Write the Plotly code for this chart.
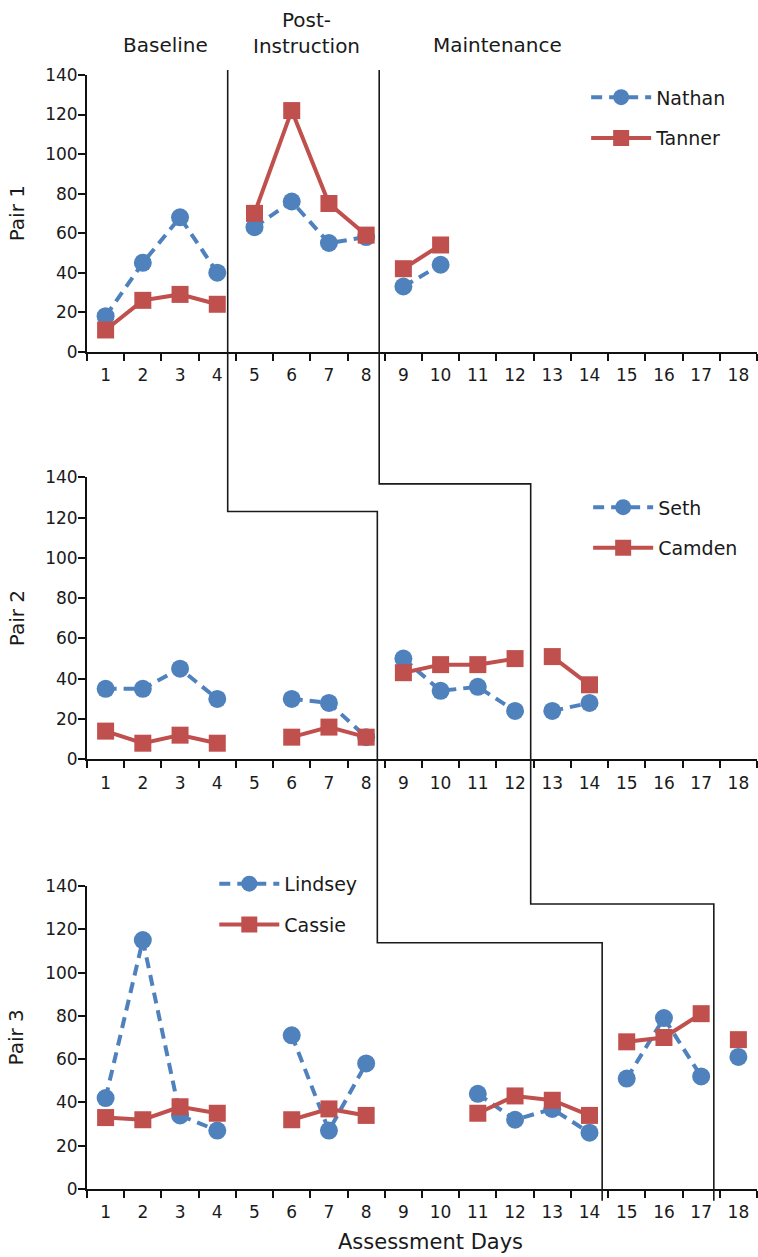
import plotly.graph_objects as go

# ---------------- data ----------------
days = list(range(1, 19))
nathan = [18, 45, 68, 40, 63, 76, 55, 58, 33, 44] + [None] * 8
tanner = [11, 26, 29, 24, 70, 122, 75, 59, 42, 54] + [None] * 8
seth = [35, 35, 45, 30, None, 30, 28, 11, 50, 34, 36, 24, 24, 28, None, None, None, None]
camden = [14, 8, 12, 8, None, 11, 16, 11, 43, 47, 47, 50, 51, 37, None, None, None, None]
lindsey = [42, 115, 34, 27, None, 71, 27, 58, None, None, 44, 32, 37, 26, 51, 79, 52, 61]
cassie = [33, 32, 38, 35, None, 32, 37, 34, None, None, 35, 43, 41, 34, 68, 70, 81, 69]

pair_labels = ["Pair 1", "Pair 2", "Pair 3"]
phase_labels = ["Baseline", "Post-<br>Instruction", "Maintenance"]
# last day of each phase (line breaks after these days)
phase_ends = [[4, 8], [8, 12], [14, 17]]
# phase-change line x positions per pair (between days)
phase_line_a = [4.28, 8.30, 14.34]   # baseline -> post-instruction
phase_line_b = [8.35, 12.42, 17.34]  # post-instruction -> maintenance
# horizontal step levels (in y units of the lower panel)
step_a = [123, 113.8]
step_b = [136.7, 131.7]

BLUE = "#4F81BD"
RED = "#C0504D"
FONT = "DejaVu Sans, Liberation Sans, Arial, sans-serif"
TXT = "#1a1a1a"

# panel domains (paper fractions), top to bottom
domains = [[0.7516, 1.0], [0.3857, 0.6389], [0.0, 0.2720]]
YMAX = 140


def segmented(vals, ends):
    xs, ys = [], []
    for d, v in zip(days, vals):
        xs.append(d)
        ys.append(v)
        if d in ends:
            xs.append(None)
            ys.append(None)
    return xs, ys


def px(xd):
    return (xd - 0.5) / 18.0


def py(panel, yd):
    d0, d1 = domains[panel]
    return d0 + yd / YMAX * (d1 - d0)


fig = go.Figure()

pairs = [(nathan, tanner, "Nathan", "Tanner"),
         (seth, camden, "Seth", "Camden"),
         (lindsey, cassie, "Lindsey", "Cassie")]

for i, (b, r, bn, rn) in enumerate(pairs):
    ax = "" if i == 0 else str(i + 1)
    leg = "legend" if i == 0 else f"legend{i + 1}"
    xb, yb = segmented(b, phase_ends[i])
    xr, yr = segmented(r, phase_ends[i])
    fig.add_trace(go.Scatter(
        x=xb, y=yb, name=bn, mode="lines+markers",
        xaxis="x" + ax, yaxis="y" + ax, legend=leg, legendgroup=bn,
        line=dict(color=BLUE, width=4, dash="11px,7px"),
        marker=dict(symbol="circle", size=18, color=BLUE),
        connectgaps=False, cliponaxis=False))
    fig.add_trace(go.Scatter(
        x=xr, y=yr, name=rn, mode="lines+markers",
        xaxis="x" + ax, yaxis="y" + ax, legend=leg, legendgroup=rn,
        line=dict(color=RED, width=4),
        marker=dict(symbol="square", size=17, color=RED),
        connectgaps=False, cliponaxis=False))

layout = dict(
    width=758, height=1257,
    margin=dict(l=87, r=1, t=75, b=68, autoexpand=False),
    plot_bgcolor="white", paper_bgcolor="white",
    font=dict(family=FONT, color=TXT, size=17),
    showlegend=True,
)

for i in range(3):
    ax = "" if i == 0 else str(i + 1)
    layout["xaxis" + ax] = dict(
        domain=[0, 1], anchor="y" + ax, range=[0.5, 18.5],
        tickmode="array", tickvals=days, ticktext=[str(d) for d in days],
        ticks="outside", ticklen=7, tickcolor="rgba(0,0,0,0)",
        ticklabelstandoff=0,
        minor=dict(tickmode="array", tickvals=[d + 0.5 for d in range(0, 19)],
                   ticks="outside", ticklen=7, tickwidth=2, tickcolor="#111"),
        showline=True, linewidth=2, linecolor="#111",
        showgrid=False, zeroline=False,
        tickfont=dict(size=17, family=FONT, color=TXT),
    )
    layout["yaxis" + ax] = dict(
        domain=domains[i], anchor="x" + ax, range=[0, YMAX],
        tickmode="linear", tick0=0, dtick=20,
        ticks="outside", ticklen=7, tickwidth=2, tickcolor="#111",
        ticklabelstandoff=-3,
        showline=True, linewidth=2, linecolor="#111",
        showgrid=False, zeroline=False,
        tickfont=dict(size=17, family=FONT, color=TXT),
    )

legend_common = dict(
    font=dict(size=19, family=FONT, color=TXT),
    bgcolor="rgba(0,0,0,0)", borderwidth=0,
    tracegroupgap=13, itemwidth=60, traceorder="grouped",
    xanchor="left", yanchor="top",
)
layout["legend"] = dict(legend_common, x=0.745, y=0.997)
layout["legend2"] = dict(legend_common, x=0.748, y=0.629)
layout["legend3"] = dict(legend_common, x=0.19, y=0.291)

annotations = []
# phase headers
hdr_x = [2.6, 6.4, 11.53]
hdr_y = [1.0269, 1.0380, 1.0269]
for lbl, hx, hy in zip(phase_labels, hdr_x, hdr_y):
    annotations.append(dict(text=lbl, x=px(hx), y=hy, xref="paper", yref="paper",
                            showarrow=False, xanchor="center", yanchor="middle",
                            font=dict(size=20, family=FONT, color=TXT)))
# pair titles
for i, lbl in enumerate(pair_labels):
    annotations.append(dict(text=lbl, x=-0.1045, y=(domains[i][0] + domains[i][1]) / 2,
                            xref="paper", yref="paper", textangle=-90,
                            showarrow=False, xanchor="center", yanchor="middle",
                            font=dict(size=20, family=FONT, color=TXT)))
# x axis title
annotations.append(dict(text="Assessment Days", x=0.513, y=-0.0476,
                        xref="paper", yref="paper", showarrow=False,
                        xanchor="center", yanchor="middle",
                        font=dict(size=21, family=FONT, color=TXT)))
layout["annotations"] = annotations


# phase-change lines (stepped across panels)
def step_points(xs, steps):
    top = py(0, YMAX + 2.5)
    bottom = py(2, -5.4)
    return [(px(xs[0]), top),
            (px(xs[0]), py(1, steps[0])),
            (px(xs[1]), py(1, steps[0])),
            (px(xs[1]), py(2, steps[1])),
            (px(xs[2]), py(2, steps[1])),
            (px(xs[2]), bottom)]


shapes = []
for xs, steps in [(phase_line_a, step_a), (phase_line_b, step_b)]:
    pts = step_points(xs, steps)
    path = "M " + " L ".join(f"{x:.5f},{y:.5f}" for x, y in pts)
    shapes.append(dict(type="path", path=path, xref="paper", yref="paper",
                       line=dict(color="#1a1a1a", width=1.6), layer="above"))
layout["shapes"] = shapes

fig.update_layout(**layout)
fig.write_html("out.html",
               config={"displayModeBar": False},
               post_script="document.body.style.margin='0';document.body.style.padding='0';")
